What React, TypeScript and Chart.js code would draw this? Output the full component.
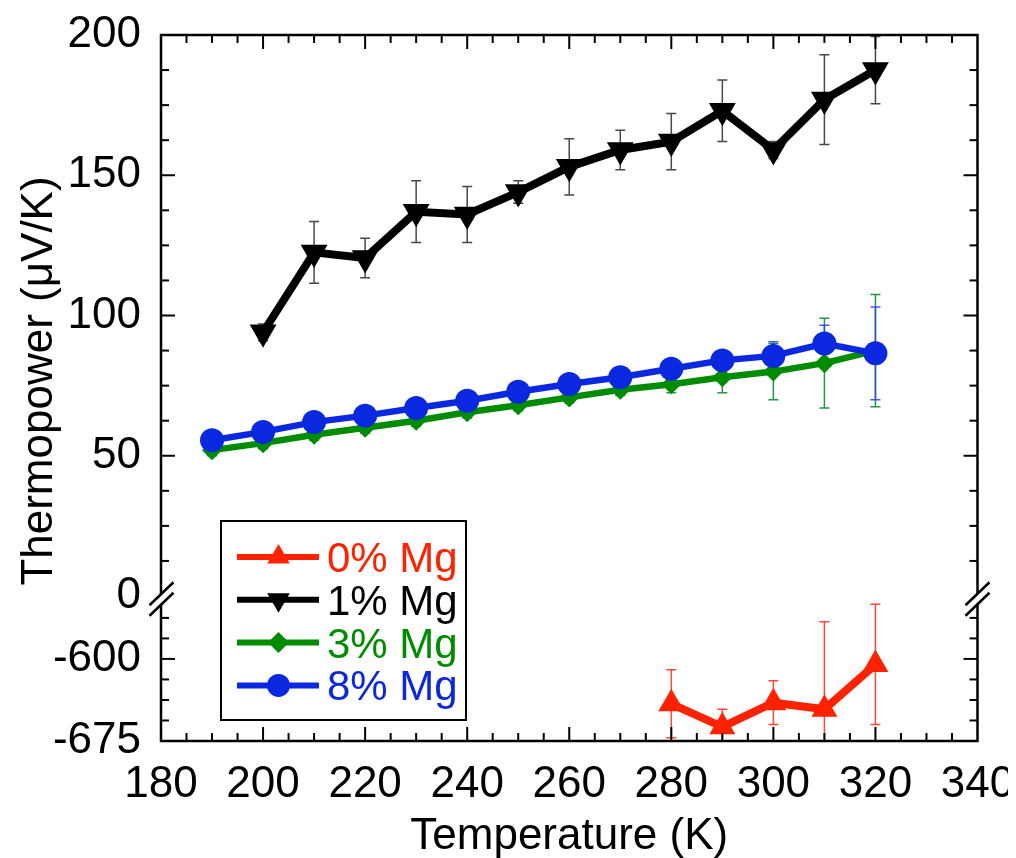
import React, { useEffect, useRef } from 'react';
import { Chart, registerables } from 'chart.js';

Chart.register(...registerables);

// ---------------- data ----------------
const seriesLabels = ['0% Mg', '1% Mg', '3% Mg', '8% Mg'];
const seriesColors = ['#ff2200', '#000000', '#008c00', '#0a28e0'];
const errorColors = ['rgba(255,40,20,0.85)', 'rgba(40,40,40,0.85)', 'rgba(0,130,40,0.85)', 'rgba(40,60,240,0.85)'];

const temps0 = [280, 290, 300, 310, 320];
const mg0 = [-641, -662, -640, -646, -605];
const err0 = [31, 16, 20, 80, 55];

const temps1 = [200, 210, 220, 230, 240, 250, 260, 270, 280, 290, 300, 310, 320];
const mg1 = [94, 122.5, 120.5, 137, 136, 144, 153, 159, 162, 173, 159, 177, 187.5];
const err1 = [3, 11, 7, 11, 10, 4, 10, 7, 10, 11, 3, 16, 12];

const temps38 = [190, 200, 210, 220, 230, 240, 250, 260, 270, 280, 290, 300, 310, 320];
const mg3 = [52, 54.5, 57.5, 60, 62.5, 65.5, 68, 70.8, 73.5, 75.5, 78, 80, 83, 87.5];
const err3 = [2, 2, 2, 2, 2, 2, 2, 2, 2, 3, 5.5, 10, 16, 20];
const mg8 = [55.5, 58.5, 62, 64.3, 67, 69.6, 72.8, 75.6, 78, 81, 84, 85.6, 90, 86.5];
const err8 = [2, 2, 2, 2, 2, 2, 2, 2, 2, 2, 2, 5, 6.5, 16.5];

const xTicks = [180, 200, 220, 240, 260, 280, 300, 320, 340];
const yUpperTicks = [0, 50, 100, 150, 200];
const yLowerTicks = [-675, -600];

const FONT = '"Liberation Sans", Arial, Helvetica, sans-serif';

const pts = (xs: number[], ys: number[]) => xs.map((x, i) => ({ x, y: ys[i] }));

function markerPath(ctx: CanvasRenderingContext2D, style: string, x: number, y: number, r: number) {
  ctx.beginPath();
  if (style === 'triUp' || style === 'triDown') {
    const s = style === 'triUp' ? -1 : 1;
    ctx.moveTo(x, y + s * r);
    ctx.lineTo(x + r * Math.sqrt(3) / 2, y - s * r / 2);
    ctx.lineTo(x - r * Math.sqrt(3) / 2, y - s * r / 2);
    ctx.closePath();
  } else if (style === 'diamond') {
    ctx.moveTo(x, y - r);
    ctx.lineTo(x + r, y);
    ctx.lineTo(x, y + r);
    ctx.lineTo(x - r, y);
    ctx.closePath();
  } else {
    ctx.arc(x, y, r, 0, Math.PI * 2);
  }
}

const decorPlugin = {
  id: 'decor',
  beforeDatasetsDraw(chart: any) {
    const ctx: CanvasRenderingContext2D = chart.ctx;
    const xs = chart.scales.x;
    const area = chart.chartArea;
    chart.data.datasets.forEach((ds: any) => {
      const ys = chart.scales[ds.yAxisID];
      ctx.save();
      ctx.beginPath();
      ctx.rect(area.left, ys.top, area.right - area.left, ys.bottom - ys.top);
      ctx.clip();
      ctx.strokeStyle = ds.errColor;
      ctx.lineWidth = 1.5;
      ds.data.forEach((p: any, j: number) => {
        const e = ds.errors[j];
        const x = xs.getPixelForValue(p.x);
        const y1 = ys.getPixelForValue(p.y + e);
        const y2 = ys.getPixelForValue(p.y - e);
        ctx.beginPath();
        ctx.moveTo(x, y1); ctx.lineTo(x, y2);
        ctx.moveTo(x - 5, y1); ctx.lineTo(x + 5, y1);
        ctx.moveTo(x - 5, y2); ctx.lineTo(x + 5, y2);
        ctx.stroke();
      });
      ctx.restore();
    });
  },
  afterDraw(chart: any) {
    const ctx: CanvasRenderingContext2D = chart.ctx;
    const { left, right, top, bottom } = chart.chartArea;
    const xs = chart.scales.x;
    const yU = chart.scales.y;
    const yL = chart.scales.y2;
    ctx.save();
    ctx.strokeStyle = '#000';
    ctx.lineCap = 'butt';

    const line = (x1: number, y1: number, x2: number, y2: number) => {
      ctx.beginPath(); ctx.moveTo(x1, y1); ctx.lineTo(x2, y2); ctx.stroke();
    };

    // inward ticks
    ctx.lineWidth = 2;
    for (let v = 185; v < 340; v += 5) {
      const x = xs.getPixelForValue(v);
      const len = v % 20 === 0 ? 14 : 8;
      line(x, bottom, x, bottom - len);
      line(x, top, x, top + len);
    }
    for (let v = 12.5; v < 200; v += 12.5) {
      const y = yU.getPixelForValue(v);
      const len = v % 50 === 0 ? 14 : 8;
      line(left, y, left + len, y);
      line(right, y, right - len, y);
    }
    for (let k = 1; k <= 6; k++) {
      const v = -675 + 18.75 * k;
      const y = yL.getPixelForValue(v);
      const len = v === -600 ? 14 : 8;
      line(left, y, left + len, y);
      line(right, y, right - len, y);
    }

    // frame
    ctx.lineWidth = 2.5;
    ctx.strokeRect(left, top, right - left, bottom - top);

    // axis breaks
    const drawBreak = (cx: number, cy: number) => {
      const dx = 12, dy = 11.5, gap = 10.5;
      ctx.fillStyle = '#fff';
      ctx.beginPath();
      ctx.moveTo(cx - dx, cy - gap / 2 + dy);
      ctx.lineTo(cx + dx, cy - gap / 2 - dy);
      ctx.lineTo(cx + dx, cy + gap / 2 - dy);
      ctx.lineTo(cx - dx, cy + gap / 2 + dy);
      ctx.closePath();
      ctx.fill();
      ctx.lineWidth = 2.5;
      line(cx - dx, cy - gap / 2 + dy, cx + dx, cy - gap / 2 - dy);
      line(cx - dx, cy + gap / 2 + dy, cx + dx, cy + gap / 2 - dy);
    };
    const by = yU.bottom + 3;
    drawBreak(left + 0.5, by);
    drawBreak(right, by);

    // legend
    const lgL = left + 60, lgR = left + 305, lgB = bottom - 21, lgT = lgB - 199;
    ctx.fillStyle = '#fff';
    ctx.fillRect(lgL, lgT, lgR - lgL, lgB - lgT);
    ctx.lineWidth = 2;
    ctx.strokeStyle = '#000';
    ctx.strokeRect(lgL, lgT, lgR - lgL, lgB - lgT);
    const styles = ['triUp', 'triDown', 'diamond', 'circle'];
    const radii = [13, 13, 10.5, 11.5];
    ctx.font = `42px ${FONT}`;
    ctx.textAlign = 'left';
    ctx.textBaseline = 'alphabetic';
    seriesLabels.forEach((lab, i) => {
      const cy = lgT + 36 + i * 42.8;
      ctx.strokeStyle = seriesColors[i];
      ctx.lineWidth = 6;
      line(lgL + 16, cy, lgL + 98, cy);
      ctx.fillStyle = seriesColors[i];
      markerPath(ctx, styles[i], lgL + 57.5, cy, radii[i]);
      ctx.fill();
      ctx.fillText(lab, lgL + 106, cy + 15);
    });

    // axis titles
    ctx.fillStyle = '#000';
    ctx.font = `44px ${FONT}`;
    ctx.textAlign = 'center';
    ctx.textBaseline = 'alphabetic';
    ctx.fillText('Temperature (K)', (left + right) / 2, 841);
    ctx.save();
    ctx.translate(44, (top + bottom) / 2 - 7);
    ctx.rotate(-Math.PI / 2);
    ctx.fillText('Thermopower (\u03BCV/K)', 0, 0);
    ctx.restore();

    ctx.restore();
  },
};

export default function App() {
  const ref = useRef<HTMLCanvasElement | null>(null);

  useEffect(() => {
    if (!ref.current) return;
    const tickFont = { family: FONT, size: 44 };
    const chart = new Chart(ref.current, {
      type: 'line',
      data: {
        datasets: [
          {
            label: seriesLabels[0], data: pts(temps0, mg0), yAxisID: 'y2', order: 3,
            borderColor: seriesColors[0], backgroundColor: seriesColors[0], borderWidth: 8,
            pointStyle: 'triangle', pointRadius: 15, pointBorderWidth: 0,
            errors: err0, errColor: errorColors[0],
          } as any,
          {
            label: seriesLabels[1], data: pts(temps1, mg1), yAxisID: 'y', order: 2,
            borderColor: seriesColors[1], backgroundColor: seriesColors[1], borderWidth: 8,
            pointStyle: 'triangle', pointRotation: 180, pointRadius: 15.5, pointBorderWidth: 0,
            errors: err1, errColor: errorColors[1],
          } as any,
          {
            label: seriesLabels[2], data: pts(temps38, mg3), yAxisID: 'y', order: 1,
            borderColor: seriesColors[2], backgroundColor: seriesColors[2], borderWidth: 6.5,
            pointStyle: 'rectRot', pointRadius: 10, pointBorderWidth: 0,
            errors: err3, errColor: errorColors[2],
          } as any,
          {
            label: seriesLabels[3], data: pts(temps38, mg8), yAxisID: 'y', order: 0,
            borderColor: seriesColors[3], backgroundColor: seriesColors[3], borderWidth: 6.5,
            pointStyle: 'circle', pointRadius: 12, pointBorderWidth: 0,
            errors: err8, errColor: errorColors[3],
          } as any,
        ],
      },
      options: {
        animation: false,
        responsive: false,
        devicePixelRatio: 1,
        events: [],
        layout: { padding: { top: 27, right: 38.5, left: 0, bottom: 0 } },
        plugins: { legend: { display: false }, tooltip: { enabled: false } },
        scales: {
          x: {
            type: 'linear', position: 'bottom', min: 180, max: 340,
            grid: { display: false, drawTicks: false },
            border: { display: false },
            ticks: { font: tickFont, color: '#000', padding: 17, autoSkip: false, maxRotation: 0 },
            afterBuildTicks: (s: any) => { s.ticks = xTicks.map((v) => ({ value: v })); },
            afterFit: (s: any) => { s.height = 117; s.paddingLeft = 0; s.paddingRight = 0; },
          },
          y2: {
            type: 'linear', position: 'left', stack: 'left', stackWeight: 145, min: -675, max: -542.5,
            grid: { display: false, drawTicks: false },
            border: { display: false },
            ticks: { font: tickFont, color: '#000', padding: 20 },
            afterBuildTicks: (s: any) => { s.ticks = yLowerTicks.map((v) => ({ value: v })); },
            afterFit: (s: any) => { s.width = 153; s.paddingTop = 0; s.paddingBottom = 0; },
          },
          y: {
            type: 'linear', position: 'left', stack: 'left', stackWeight: 561, min: 0, max: 200,
            grid: { display: false, drawTicks: false },
            border: { display: false },
            ticks: { font: tickFont, color: '#000', padding: 20 },
            afterBuildTicks: (s: any) => { s.ticks = yUpperTicks.map((v) => ({ value: v })); },
            afterFit: (s: any) => { s.width = 153; s.paddingTop = 0; s.paddingBottom = 0; },
          },
        },
      } as any,
      plugins: [decorPlugin],
    });
    return () => chart.destroy();
  }, []);

  return (
    <div style={{ width: 1008, height: 850 }}>
      <canvas ref={ref} width={1008} height={850} style={{ display: 'block' }} />
    </div>
  );
}
